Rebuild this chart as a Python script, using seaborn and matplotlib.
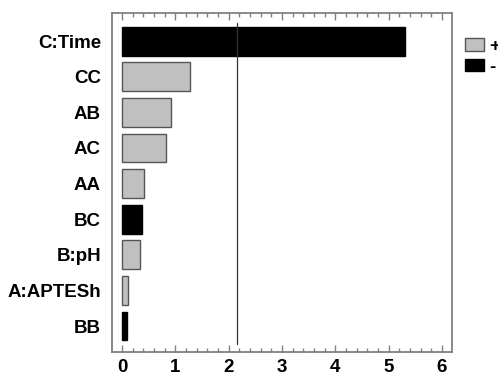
import matplotlib
matplotlib.use("Agg")
import matplotlib.pyplot as plt
from matplotlib.patches import Patch
from matplotlib.ticker import MultipleLocator
import seaborn as sns
import pandas as pd

# Standardized effects (Pareto chart)
terms = ["C:Time", "CC", "AB", "AC", "AA", "BC", "B:pH", "A:APTESh", "BB"]
effects = [5.31, 1.27, 0.92, 0.83, 0.42, 0.37, 0.34, 0.12, 0.09]
signs = ["-", "+", "+", "+", "+", "-", "+", "+", "-"]
critical_value = 2.16

sns.set_theme(style="white")
plt.rcParams["font.family"] = ["Liberation Sans", "DejaVu Sans"]
plt.rcParams["text.color"] = "black"
plt.rcParams["xtick.labelcolor"] = "black"
plt.rcParams["ytick.labelcolor"] = "black"

df = pd.DataFrame({"term": terms, "effect": effects, "sign": signs})
colors = {"+": "#c0c0c0", "-": "#000000"}

fig = plt.figure(figsize=(4.98, 3.77), dpi=100)
ax = fig.add_axes([112 / 498, 25 / 377, 340 / 498, 339 / 377])

sns.barplot(data=df, x="effect", y="term", hue="sign", order=terms,
            palette=colors, dodge=False, width=0.81, legend=False,
            edgecolor="#555555", linewidth=1.0, ax=ax)
for patch in ax.patches:
    if patch.get_facecolor()[0] < 0.1:
        patch.set_edgecolor("#000000")

ax.plot([critical_value, critical_value], [-0.5, len(terms) - 0.5],
        color="#333333", linewidth=0.9)

ax.set_xlim(-0.1875, 6.1875)
ax.set_ylim(len(terms) - 0.27, -0.79)
ax.set_xlabel("")
ax.set_ylabel("")
ax.xaxis.set_major_locator(MultipleLocator(1))
ax.xaxis.set_minor_locator(MultipleLocator(0.2))
ax.tick_params(axis="x", which="major", direction="in", length=5, width=1,
               color="#808080", top=True, bottom=True, labelsize=13.5, pad=5,
               labelcolor="black")
ax.tick_params(axis="x", which="minor", direction="in", length=3, width=1,
               color="#808080", top=True, bottom=True)
ax.tick_params(axis="y", which="both", length=0, labelsize=13.5, pad=8,
               labelcolor="black")
for lbl in ax.get_xticklabels() + ax.get_yticklabels():
    lbl.set_fontweight("bold")
for sp in ax.spines.values():
    sp.set_color("#808080")
    sp.set_linewidth(1.3)
    sp.set_visible(True)

handles = [Patch(facecolor=colors["+"], edgecolor="#555555", label="+"),
           Patch(facecolor=colors["-"], edgecolor="#000000", label="-")]
fig.legend(handles=handles, loc="upper left",
           bbox_to_anchor=(461 / 498, 1 - 34 / 377),
           frameon=False, handlelength=1.0, handleheight=0.67,
           handletextpad=0.32, labelspacing=0.2, borderpad=0.2,
           borderaxespad=0.0, labelcolor="black",
           prop={"weight": "bold", "size": 13.5})

fig.savefig("out.png", dpi=100)
